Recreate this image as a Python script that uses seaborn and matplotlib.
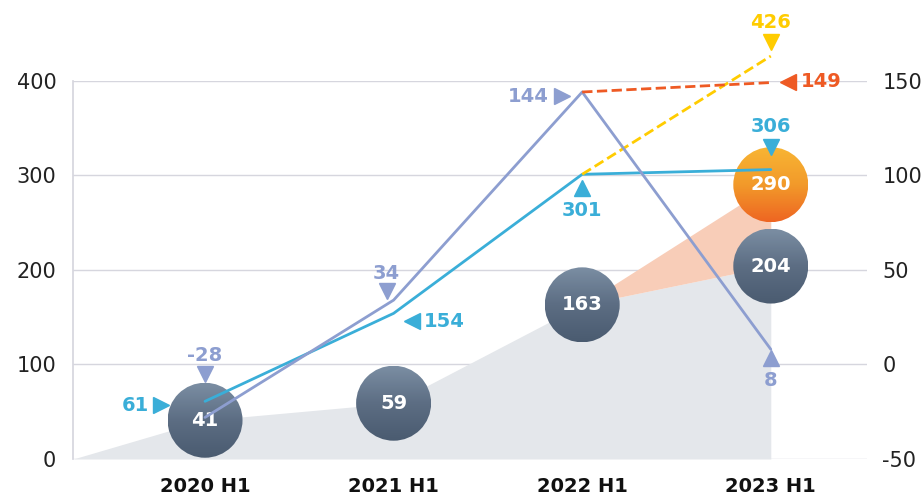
import numpy as np
import pandas as pd
import matplotlib.pyplot as plt
import seaborn as sns
from matplotlib.colors import LinearSegmentedColormap
from matplotlib.patches import Circle
from matplotlib.transforms import ScaledTranslation

periods = ["2020 H1", "2021 H1", "2022 H1", "2023 H1"]
bubble_vals = [41, 59, 163, 204]
forecast_bubble = 290
cyan_vals = [61, 154, 301, 306]
purple_vals = [-28, 34, 144, 8]
yellow_fc = [301, 426]
red_fc = [144, 149]

CYAN = "#3AAED8"
PURPLE = "#8D9ED0"
YELLOW = "#FFCC00"
RED = "#EE5A24"
GRID = "#D6D6DE"

sns.set_theme(style="white")
plt.rcParams["font.family"] = ["DejaVu Sans"]

fig = plt.figure(figsize=(9.23, 5.01), dpi=100)
ax = fig.add_axes([0.0791, 0.0838, 0.8602, 0.7552])
ax2 = ax.twinx()

x = np.arange(len(periods))
xmin, xmax = -0.70, 3.51

# areas
ax.fill_between(np.r_[xmin, x], np.r_[0, bubble_vals], 0, color="#E4E7EB", lw=0, zorder=1)
ax.fill_between(x[2:], [bubble_vals[2], bubble_vals[3]], [bubble_vals[2], forecast_bubble],
                color="#F8CDB8", lw=0, zorder=1)

# gradient bubbles
dark = LinearSegmentedColormap.from_list("dark", ["#7B8EA3", "#5C6D83", "#4A5B70"])
orange = LinearSegmentedColormap.from_list("orange", ["#F8B534", "#F29A2A", "#EE6522"])
grad = np.linspace(0, 1, 256).reshape(-1, 1)
r = 0.375


def bubble(xv, yv, txt, cmap):
    trans = fig.dpi_scale_trans + ScaledTranslation(xv, yv, ax.transData)
    circ = Circle((0, 0), r, transform=trans)
    im = ax.imshow(grad, cmap=cmap, extent=(-r, r, -r, r), transform=trans,
                   aspect="auto", origin="upper", zorder=3)
    im.set_clip_path(circ)
    ax.text(xv, yv, txt, ha="center", va="center", color="white",
            fontsize=14, fontweight="bold", zorder=6)


for xi, v in zip(x, bubble_vals):
    bubble(xi, v, str(v), dark)
bubble(x[3], forecast_bubble, str(forecast_bubble), orange)

# lines
df = pd.DataFrame({"x": x, "cyan": cyan_vals, "purple": purple_vals})
sns.lineplot(data=df, x="x", y="cyan", ax=ax, color=CYAN, lw=2, zorder=5)
sns.lineplot(x=x[2:], y=yellow_fc, ax=ax, color=YELLOW, lw=2, zorder=5,
             dashes=(4, 2.5), linestyle="--")
ax.lines[-1].set_clip_on(False)
sns.lineplot(data=df, x="x", y="purple", ax=ax2, color=PURPLE, lw=2, zorder=5)
sns.lineplot(x=x[2:], y=red_fc, ax=ax2, color=RED, lw=2, zorder=5,
             dashes=(4, 2.5), linestyle="--")


def label(a, xv, yv, txt, color, tdx, tdy, marker, mdx, mdy):
    # offsets in pixels at dpi 100
    mt = a.transData + ScaledTranslation(mdx / 100, mdy / 100, fig.dpi_scale_trans)
    a.plot([xv], [yv], marker=marker, ms=11, color=color, lw=0, transform=mt,
           clip_on=False, zorder=7)
    tt = a.transData + ScaledTranslation(tdx / 100, tdy / 100, fig.dpi_scale_trans)
    a.text(xv, yv, txt, transform=tt, ha="center", va="center", color=color,
           fontsize=14, fontweight="bold", clip_on=False, zorder=7)


# purple (right axis)
label(ax2, x[0], purple_vals[0], str(purple_vals[0]), PURPLE, 0, 62, "v", 0, 43)
label(ax2, x[1], purple_vals[1], str(purple_vals[1]), PURPLE, -7, 27, "v", -7, 9)
label(ax2, x[2], purple_vals[2], str(purple_vals[2]), PURPLE, -54, -4, ">", -20, -4)
label(ax2, x[3], purple_vals[3], str(purple_vals[3]), PURPLE, 0, -31, "^", 0, -9)
# cyan (left axis)
label(ax, x[0], cyan_vals[0], str(cyan_vals[0]), CYAN, -70, -4, ">", -44, -4)
label(ax, x[1], cyan_vals[1], str(cyan_vals[1]), CYAN, 51, -8, "<", 18, -8)
label(ax, x[2], cyan_vals[2], str(cyan_vals[2]), CYAN, 0, -36, "^", 0, -14)
label(ax, x[3], cyan_vals[3], str(cyan_vals[3]), CYAN, 0, 43, "v", 0, 23)
# forecasts
label(ax, x[3], yellow_fc[1], str(yellow_fc[1]), YELLOW, 0, 34, "v", 0, 14)
label(ax2, x[3], red_fc[1], str(red_fc[1]), RED, 50, 1, "<", 17, 1)

# axes styling
ax.set_xlim(xmin, xmax)
ax.set_ylim(0, 400)
ax2.set_ylim(-50, 150)
ax.set_yticks([0, 100, 200, 300, 400])
ax2.set_yticks([-50, 0, 50, 100, 150])
ax2.set_yticklabels([str(t) for t in [-50, 0, 50, 100, 150]])
ax.set_xticks(x)
ax.set_xticklabels(periods, fontweight="bold")
ax.set_xlabel("")
ax.set_ylabel("")
ax2.set_ylabel("")
for yv in [0, 100, 200, 300, 400]:
    ax.axhline(yv, color=GRID, lw=1, zorder=0.5)
for s in ["top", "right", "bottom"]:
    ax.spines[s].set_visible(False)
for s in ax2.spines.values():
    s.set_visible(False)
ax.spines["left"].set_color(GRID)
ax.tick_params(axis="y", length=0, pad=12, labelsize=15, labelcolor="#222222")
ax.tick_params(axis="x", length=0, pad=13, labelsize=14, labelcolor="#111111")
ax2.tick_params(axis="y", length=0, pad=11, labelsize=15, labelcolor="#222222")

fig.savefig("out.png", dpi=100)
